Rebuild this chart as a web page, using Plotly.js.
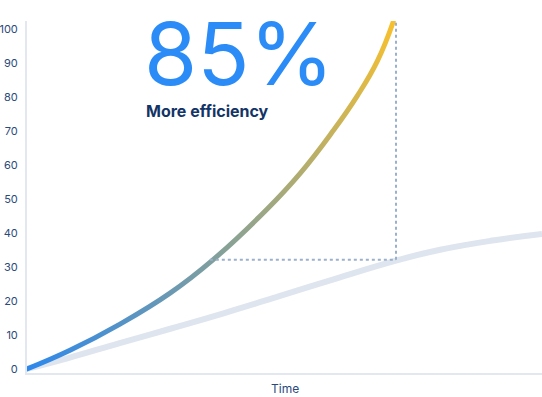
<!DOCTYPE html>
<html>
<head>
<meta charset="utf-8">
<script src="https://cdn.plot.ly/plotly-3.0.1.min.js"></script>
<style>
html,body{margin:0;padding:0;background:#fff;}
#chart{width:542px;height:397px;}
</style>
</head>
<body>
<div id="chart"></div>
<script>
// Time positions (0-100 scale) and values
var fastTime = [0, 8.35, 18.06, 27.77, 36.1, 46.6, 53.0, 59.4, 64.1, 68.0, 71.1];
var fastValues = [0, 5.5, 13.2, 22.3, 32.1, 47.0, 57.5, 70.0, 80.3, 90.5, 102.1];
var slowTime = [0, 8, 18, 28, 38, 49, 60, 71.65, 80, 90, 100];
var slowValues = [0, 3.2, 7.6, 11.9, 16.3, 21.4, 26.6, 31.9, 35.0, 37.7, 39.7];
var markTime = 71.65;
var markValue = 32.1;
var markStart = 35.5;
var markTop = 102.1;
var yTicks = [0, 10, 20, 30, 40, 50, 60, 70, 80, 90, 100];
var headline = "85%";
var subline = "More efficiency";
var xTitle = "Time";

var traces = [
  {x: slowTime, y: slowValues, mode: 'lines', line: {color: '#dfe5ee', width: 6, shape: 'spline', smoothing: 1.3}, hoverinfo: 'skip'},
  {x: fastTime, y: fastValues, mode: 'lines', line: {color: '#2d88ec', width: 5, shape: 'spline', smoothing: 1.3}, hoverinfo: 'skip'}
];

var layout = {
  width: 542, height: 397,
  margin: {l: 27, r: 0, t: 21, b: 24},
  paper_bgcolor: '#ffffff', plot_bgcolor: '#ffffff',
  showlegend: false,
  font: {family: 'Inter, "Open Sans", sans-serif', color: '#2a4a7c', size: 12},
  xaxis: {range: [0, 100], showgrid: false, zeroline: false, showticklabels: false, ticks: '',
          showline: true, linecolor: '#e3e8f0', linewidth: 2, fixedrange: true},
  yaxis: {range: [-1.2, 102.4], showgrid: false, zeroline: false, tickvals: yTicks,
          ticktext: yTicks.map(String), ticks: '', ticklabelstandoff: 5,
          showline: true, linecolor: '#e3e8f0', linewidth: 2,
          tickfont: {size: 11, color: '#2a4a7c', family: 'Inter, "Open Sans", sans-serif'}, fixedrange: true},
  shapes: [
    {type: 'line', xref: 'x', yref: 'y', x0: markTime, x1: markTime, y0: markValue, y1: markTop,
     line: {color: '#9ab0cc', width: 2, dash: 'dot'}},
    {type: 'line', xref: 'x', yref: 'y', x0: markStart, x1: markTime, y0: markValue, y1: markValue,
     line: {color: '#9ab0cc', width: 2, dash: 'dot'}}
  ],
  annotations: [
    {text: headline, xref: 'paper', yref: 'paper', x: 0.233, y: 1.06, xanchor: 'left', yanchor: 'top',
     xshift: -5, showarrow: false, font: {family: 'Inter, sans-serif', size: 86, color: '#2b8cf7', weight: 400}},
    {text: '<b>' + subline + '</b>', xref: 'paper', yref: 'paper', x: 0.233, y: 0.745, xanchor: 'left', yanchor: 'middle',
     xshift: -3, showarrow: false, font: {family: 'Inter, sans-serif', size: 16, color: '#133466'}},
    {text: xTitle, xref: 'paper', yref: 'paper', x: 0.5, y: -0.045, xanchor: 'center', yanchor: 'middle',
     showarrow: false, font: {family: 'Inter, sans-serif', size: 12, color: '#2a4a7c'}}
  ]
};

Plotly.newPlot('chart', traces, layout, {staticPlot: true}).then(function(gd){
  var svg = gd.querySelector('svg.main-svg');
  var ns = 'http://www.w3.org/2000/svg';
  var defs = svg.querySelector('defs') || svg.insertBefore(document.createElementNS(ns, 'defs'), svg.firstChild);
  var grad = document.createElementNS(ns, 'linearGradient');
  grad.setAttribute('id', 'fastGrad');
  grad.setAttribute('x1', '0'); grad.setAttribute('y1', '1');
  grad.setAttribute('x2', '1'); grad.setAttribute('y2', '0');
  [['0%', '#2d88ec'], ['100%', '#f7c02e']].forEach(function(s){
    var st = document.createElementNS(ns, 'stop');
    st.setAttribute('offset', s[0]); st.setAttribute('stop-color', s[1]);
    grad.appendChild(st);
  });
  defs.appendChild(grad);
  var paths = gd.querySelectorAll('.scatterlayer .trace path.js-line');
  if (paths.length > 1) {
    paths[1].style.stroke = 'url(#fastGrad)';
    paths[1].style.strokeLinecap = 'round';
  }
});
</script>
</body>
</html>
